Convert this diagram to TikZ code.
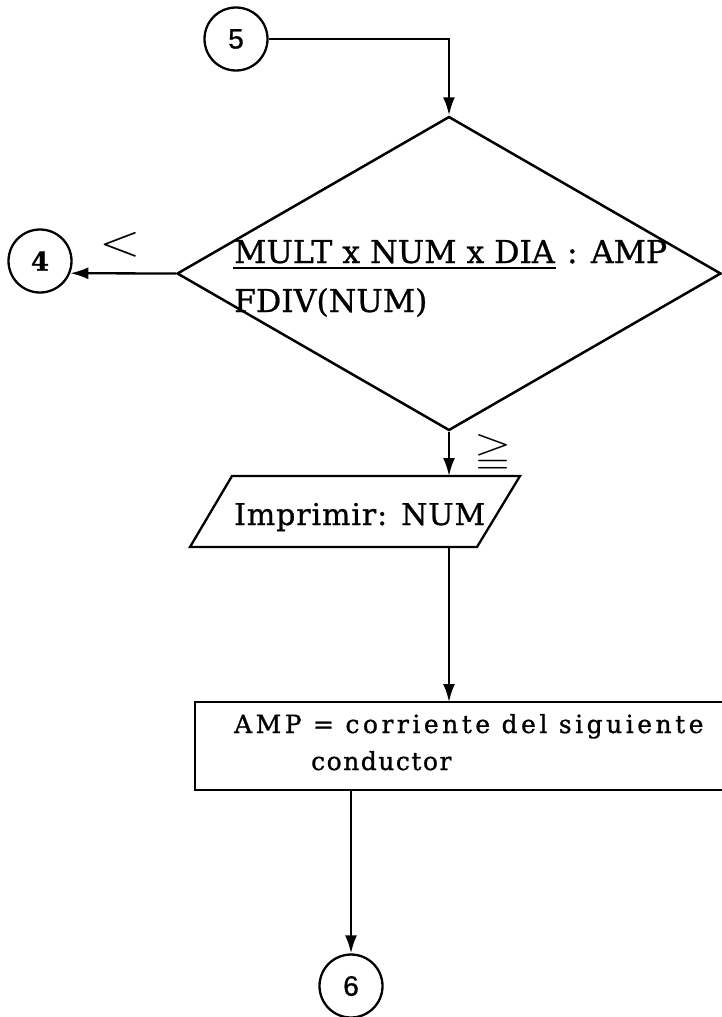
\documentclass[tikz,border=0pt]{standalone}
\usepackage{amssymb}
\usepackage{graphicx}
\usepackage{fontspec}
\setmainfont{DejaVu Serif}[FakeBold=0.8]
\newfontfamily\digitsans{Liberation Sans}[FakeBold=0.8]
\newfontfamily\boxfam{DejaVu Serif}[LetterSpace=14,FakeBold=1]
\newfontfamily\boxfamb{DejaVu Serif}[LetterSpace=6,FakeBold=1]
\newfontfamily\iofam{DejaVu Serif}[LetterSpace=3,FakeBold=0.8]
\usetikzlibrary{shapes.geometric,arrows.meta}
\newcommand{\dfont}{\fontsize{31.5}{31.5}\selectfont}
\newcommand{\bxfont}{\boxfam\fontsize{25}{25}\selectfont}
\newcommand{\bxfontb}{\boxfamb\fontsize{25}{25}\selectfont}
\newcommand{\iofont}{\iofam\fontsize{30}{30}\selectfont}
\begin{document}
\begin{tikzpicture}[x=1pt,y=-1pt,
  line width=2.3pt,
  arr/.style={-{Latex[length=18pt,width=12pt]}},
  conn/.style={draw,circle,minimum size=63pt,inner sep=0pt,line width=2.3pt},
  txt/.style={inner sep=0pt,anchor=base west}]
\useasboundingbox (0,0) rectangle (722,1017);
\fill[white] (0,0) rectangle (722,1017);

% connectors (circles)
\node[conn] (c5) at (236,39) {\digitsans\fontsize{28}{28}\selectfont 5};
\node[conn] (c4) at (40,261) {\fontsize{26}{26}\selectfont\bfseries 4};
\node[conn] (c6) at (351,986) {\digitsans\fontsize{28}{28}\selectfont 6};

% decision
\node[diamond,draw,line width=2.5pt,minimum width=544pt,minimum height=314pt,inner sep=0pt] (dec) at (449,273.5) {};
\node[txt] (d1a) at (233,263) {\dfont MULT x NUM x DIA};
\node[txt] (d1b) at (d1a.base east) {\dfont~: AMP};
\draw[line width=2pt] ([yshift=-5pt]d1a.base west) -- ([yshift=-5pt]d1a.base east);
\node[txt] (d2) at (233,312) {\dfont FDIV(NUM)};

\draw[arr] (c5.east) -- (dec.north |- c5.east) -- (dec.north);
\draw[arr] (dec.west) -- (c4.-22);
\node (lt) at (120,245) {\resizebox{41pt}{23pt}{$<$}};

% input/output
\coordinate (p1) at (232,476);
\coordinate (p2) at (520,476);
\coordinate (p3) at (477,547);
\coordinate (p4) at (190,547);
\draw (p1) -- (p2) -- (p3) -- (p4) -- cycle;
\node[txt] (io) at (233,525) {\iofont Imprimir: NUM};
\coordinate (pin) at (dec.south |- p1);
\draw[arr] (dec.south) -- (pin);
\node (ge) at (493,453) {\resizebox{37pt}{28pt}{$\geqq$}};

% process box
\coordinate (b1) at (195,702);
\coordinate (b2) at (722,702);
\coordinate (b3) at (722,790);
\coordinate (b4) at (195,790);
\draw (b2) -- (b1) -- (b4) -- (b3);
\node[txt] (bt1) at (233,733) {\bxfont AMP = corriente del siguiente};
\node[txt] (bt2) at (310,770) {\bxfontb conductor};
\coordinate (pout) at (pin |- p3);
\coordinate (bin) at (pin |- b1);
\draw[arr] (pout) -- (bin);
\coordinate (bout) at (c6.north |- b4);
\draw[arr] (bout) -- (c6.north);
\end{tikzpicture}
\end{document}
